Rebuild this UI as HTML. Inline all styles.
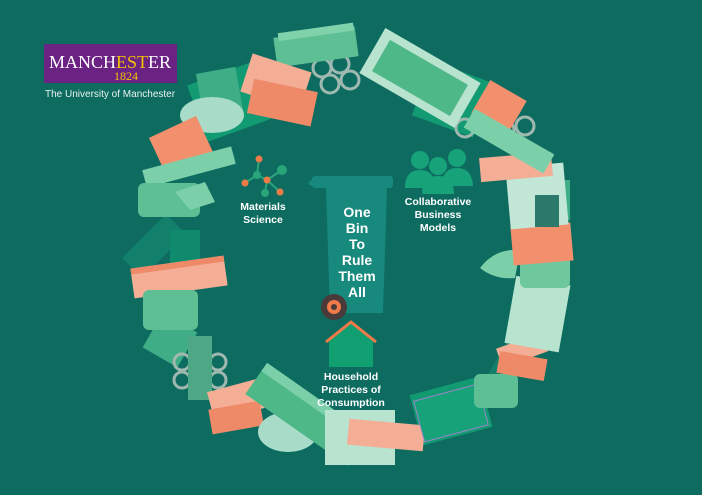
<!DOCTYPE html>
<html><head><meta charset="utf-8"><style>
html,body{margin:0;padding:0;width:702px;height:495px;overflow:hidden;background:#0d6b60}
svg{display:block}
</style></head><body>
<svg width="702" height="495" viewBox="0 0 702 495" xmlns="http://www.w3.org/2000/svg" style="font-family:'Liberation Sans',sans-serif">
<rect width="702" height="495" fill="#0d6b60"/>
<!-- logo -->
<rect x="44" y="44" width="133" height="39" fill="#6b2383"/>
<text x="110" y="68" text-anchor="middle" style="font-family:'Liberation Serif',serif" font-size="18" fill="#fff">MANCH<tspan fill="#f2c200">EST</tspan>ER</text>
<text x="126" y="80" text-anchor="middle" style="font-family:'Liberation Serif',serif" font-size="12" fill="#f2c200">1824</text>
<text x="45" y="97" font-size="10" fill="#e8f2ef">The University of Manchester</text>

<g stroke="none">
<!-- back dark green pieces -->
<rect x="195" y="70" width="80" height="60" fill="#129a72" transform="rotate(-20 235 100)"/>
<rect x="420" y="70" width="65" height="58" fill="#129a72" transform="rotate(20 452 99)"/>
<rect x="415" y="385" width="72" height="52" fill="#129a72" transform="rotate(-15 451 411)"/>
<rect x="140" y="215" width="28" height="62" fill="#12806b" transform="rotate(45 154 246)"/>
<rect x="500" y="330" width="25" height="55" fill="#12806b" transform="rotate(30 512 357)"/>
<rect x="150" y="320" width="40" height="40" fill="#3fae86" transform="rotate(30 170 340)"/>
<rect x="200" y="70" width="40" height="50" fill="#3fae86" transform="rotate(-10 220 95)"/>
<rect x="170" y="230" width="30" height="40" fill="#0f8a6c"/>
<rect x="530" y="180" width="40" height="40" fill="#3fae86"/>
<!-- rings -->
<g fill="none" stroke="#9fb9b0" stroke-width="3">
<circle cx="322" cy="68" r="9"/><circle cx="340" cy="64" r="9"/><circle cx="330" cy="84" r="9"/><circle cx="350" cy="80" r="9"/>
<circle cx="465" cy="128" r="9"/><circle cx="485" cy="124" r="9"/><circle cx="505" cy="130" r="9"/><circle cx="525" cy="126" r="9"/>
<circle cx="182" cy="362" r="8"/><circle cx="200" cy="362" r="8"/><circle cx="218" cy="362" r="8"/><circle cx="182" cy="380" r="8"/><circle cx="200" cy="380" r="8"/><circle cx="218" cy="380" r="8"/>
<circle cx="535" cy="310" r="8"/><circle cx="550" cy="320" r="8"/><circle cx="540" cy="330" r="8"/>
</g>
<!-- top -->
<rect x="275" y="32" width="82" height="30" fill="#5fbf94" transform="rotate(-8 316 47)"/>
<rect x="280" y="28" width="76" height="8" fill="#7fd2aa" transform="rotate(-8 316 47)"/>
<rect x="245" y="62" width="62" height="40" fill="#f4ae96" transform="rotate(18 276 82)"/>
<rect x="250" y="85" width="65" height="35" fill="#ee8a68" transform="rotate(12 282 102)"/>
<rect x="365" y="52" width="110" height="52" fill="#b8e3cf" transform="rotate(30 420 78)"/>
<rect x="375" y="60" width="90" height="36" fill="#4fb888" transform="rotate(30 420 78)"/>
<rect x="478" y="88" width="42" height="38" fill="#f2906e" transform="rotate(30 499 107)"/>
<ellipse cx="212" cy="115" rx="32" ry="18" fill="#a8dcc9"/>
<rect x="155" y="125" width="52" height="40" fill="#f2906e" transform="rotate(-25 181 145)"/>
<rect x="143" y="158" width="92" height="18" fill="#7cd0a9" transform="rotate(-15 189 167)"/>
<!-- left -->
<rect x="138" y="183" width="62" height="34" rx="6" fill="#5fbf94"/>
<path d="M175 192 l30 -10 l10 20 l-25 8z" fill="#7cd0a9"/>
<rect x="132" y="262" width="94" height="30" fill="#f4ae96" transform="rotate(-8 179 277)"/>
<rect x="132" y="262" width="94" height="6" fill="#ee8a68" transform="rotate(-8 179 277)"/>
<rect x="143" y="290" width="55" height="40" rx="6" fill="#5fbf94"/>
<rect x="188" y="336" width="24" height="64" fill="#4fa885"/>
<rect x="210" y="385" width="52" height="30" fill="#f4ae96" transform="rotate(-15 236 400)"/>
<rect x="210" y="405" width="52" height="25" fill="#ee8a68" transform="rotate(-10 236 417)"/>
<!-- bottom -->
<ellipse cx="288" cy="432" rx="30" ry="20" fill="#a8dcc9"/>
<rect x="245" y="395" width="125" height="38" fill="#4fb888" transform="rotate(35 307 414)"/>
<rect x="245" y="395" width="125" height="10" fill="#7cd0a9" transform="rotate(35 307 414)"/>
<rect x="325" y="410" width="70" height="55" fill="#b8e3cf"/>
<rect x="348" y="422" width="76" height="26" fill="#f4ae96" transform="rotate(5 386 435)"/>
<rect x="418" y="392" width="66" height="42" fill="#17a27a" stroke="#9b85c8" stroke-width="1" transform="rotate(-15 451 413)"/>
<rect x="474" y="374" width="44" height="34" rx="6" fill="#5fbf94"/>
<!-- right -->
<rect x="498" y="340" width="48" height="20" fill="#f4ae96" transform="rotate(-20 522 350)"/>
<rect x="498" y="355" width="48" height="22" fill="#ee8a68" transform="rotate(10 522 366)"/>
<rect x="510" y="280" width="55" height="68" fill="#b8e3cf" transform="rotate(10 537 314)"/>
<rect x="520" y="252" width="50" height="36" rx="6" fill="#6fc79d"/>
<path d="M480 268 q15 -20 40 -18 l-5 28 q-20 2 -35 -10z" fill="#7cd0a9"/>
<rect x="512" y="225" width="60" height="38" fill="#f2906e" transform="rotate(-5 542 244)"/>
<rect x="508" y="165" width="58" height="62" fill="#c2e7d6" transform="rotate(-5 537 196)"/>
<rect x="535" y="195" width="24" height="32" fill="#2b7a6c"/>
<rect x="480" y="155" width="72" height="24" fill="#f4ae96" transform="rotate(-5 516 167)"/>
<rect x="463" y="130" width="92" height="22" fill="#7cd0a9" transform="rotate(30 509 141)"/>
</g>

<!-- center icons -->
<g stroke="#2aa57a" stroke-width="2">
<line x1="259" y1="159" x2="257" y2="175"/><line x1="257" y1="175" x2="267" y2="180"/><line x1="257" y1="175" x2="245" y2="183"/><line x1="267" y1="180" x2="282" y2="170"/><line x1="267" y1="180" x2="265" y2="193"/><line x1="267" y1="180" x2="280" y2="192"/>
</g>
<circle cx="259" cy="159" r="3.5" fill="#f07a48"/><circle cx="257" cy="175" r="4" fill="#2aa57a"/><circle cx="267" cy="180" r="3.5" fill="#f07a48"/><circle cx="245" cy="183" r="3.5" fill="#f07a48"/><circle cx="282" cy="170" r="5" fill="#2aa57a"/><circle cx="265" cy="193" r="4" fill="#2aa57a"/><circle cx="280" cy="192" r="3.5" fill="#f07a48"/>
<g fill="#fff" font-weight="bold" font-size="10.5" text-anchor="middle">
<text x="263" y="210">Materials</text><text x="263" y="223">Science</text>
<text x="438" y="205">Collaborative</text><text x="438" y="218">Business</text><text x="438" y="231">Models</text>
<text x="351" y="380">Household</text><text x="351" y="393">Practices of</text><text x="351" y="406">Consumption</text>
</g>
<g fill="#17a27a">
<circle cx="420" cy="160" r="9"/><circle cx="457" cy="158" r="9"/><circle cx="438" cy="166" r="9"/>
<path d="M405 188 q0 -18 15 -18 q15 0 15 18z"/><path d="M442 186 q0 -18 15 -18 q15 0 16 18z"/><path d="M422 194 q0 -18 16 -18 q16 0 16 18z"/>
</g>
<!-- bin -->
<rect x="312" y="176" width="81" height="12" rx="3" fill="#17897d"/>
<circle cx="311" cy="183" r="2.5" fill="#17897d"/>
<path d="M326 188 L387 188 L383 313 L330 313Z" fill="#17897d"/>
<g fill="#fff" font-weight="bold" font-size="14" text-anchor="middle">
<text x="357" y="217">One</text><text x="357" y="233">Bin</text><text x="357" y="249">To</text><text x="357" y="265">Rule</text><text x="357" y="281">Them</text><text x="357" y="297">All</text>
</g>
<circle cx="334" cy="307" r="13" fill="#4a3a3a"/><circle cx="334" cy="307" r="7" fill="#f07a48"/><circle cx="334" cy="307" r="3" fill="#4a3a3a"/>
<path d="M329 339 L351 322 L373 339 L373 367 L329 367Z" fill="#109f70"/>
<path d="M326 342 L351 322 L376 342" fill="none" stroke="#f07a48" stroke-width="3"/>
</svg>
</body></html>
